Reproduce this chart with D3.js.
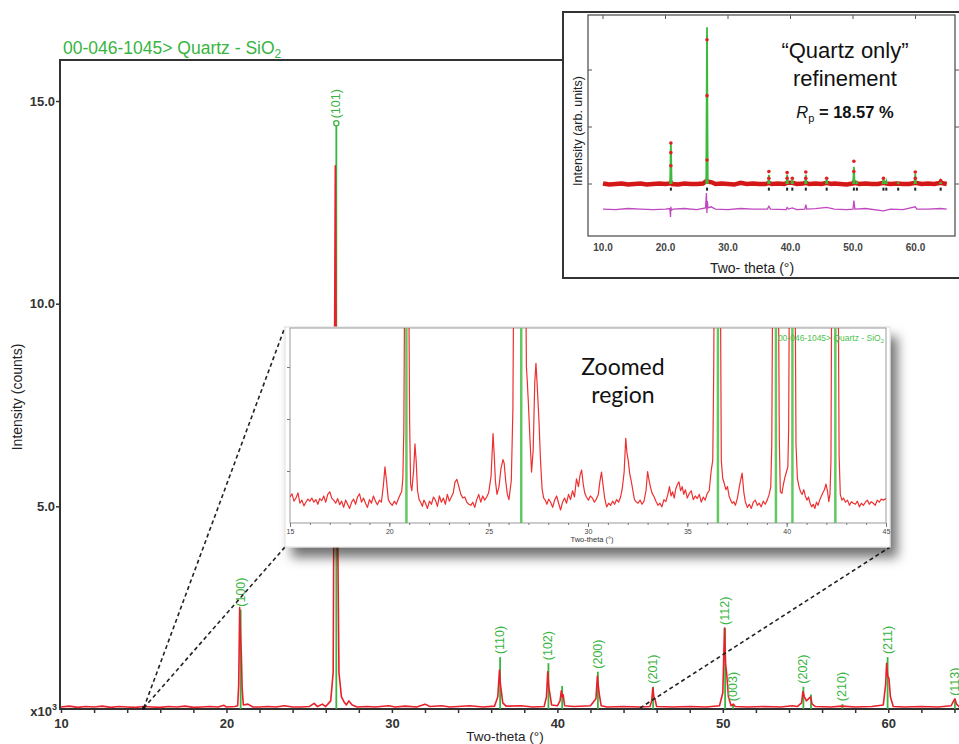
<!DOCTYPE html>
<html>
<head>
<meta charset="utf-8">
<script src="https://cdn.jsdelivr.net/npm/d3@7"></script>
<style>
  body { margin: 0; background: #fff; }
  svg { display: block; font-family: "Liberation Sans", Arial, sans-serif; }
</style>
</head>
<body>
<svg id="chart" width="959" height="744"></svg>
<script>
// ---- main pattern, intensity in units of 10^3 counts ----
const scan = [
  [10.0,0.05],[10.5,0.07],[11.0,0.04],[11.5,0.06],[12.0,0.05],[12.5,0.07],[13.0,0.04],[13.5,0.06],
  [14.0,0.05],[14.5,0.04],[15.0,0.06],[15.5,0.05],[16.0,0.04],[16.5,0.06],[17.0,0.05],[17.5,0.07],
  [18.0,0.04],[18.5,0.05],[19.0,0.06],[19.5,0.05],[19.85,0.09],[20.0,0.05],[20.5,0.06],[20.68,0.08],
  [20.74,0.6],[20.80,2.5],[20.85,1.8],[20.90,1.35],[20.95,0.5],[21.02,0.1],[21.3,0.12],[21.6,0.05],
  [22.0,0.05],[22.5,0.06],[23.0,0.05],[23.5,0.08],[24.0,0.05],[24.5,0.05],[25.0,0.06],[25.3,0.14],
  [25.5,0.06],[25.8,0.12],[26.0,0.06],[26.3,0.2],[26.45,0.9],[26.58,13.4],[26.66,6.0],[26.72,4.5],
  [26.8,0.9],[26.95,0.3],[27.1,0.18],[27.25,0.1],[27.4,0.2],[27.6,0.1],[27.9,0.05],[28.5,0.06],
  [29.0,0.05],[29.8,0.08],[30.2,0.05],[30.8,0.07],[31.5,0.05],[32.0,0.12],[32.3,0.06],[33.0,0.08],
  [33.5,0.05],[34.0,0.06],[34.7,0.08],[35.5,0.05],[36.2,0.07],[36.40,0.3],[36.50,0.96],[36.56,0.6],
  [36.61,0.45],[36.7,0.15],[36.9,0.07],[37.8,0.08],[38.5,0.05],[39.2,0.06],[39.34,0.3],[39.42,0.92],
  [39.48,0.55],[39.54,0.4],[39.65,0.1],[40.0,0.08],[40.16,0.2],[40.24,0.45],[40.30,0.3],[40.35,0.35],
  [40.44,0.08],[41.0,0.06],[42.0,0.08],[42.33,0.25],[42.42,0.81],[42.48,0.55],[42.54,0.35],[42.65,0.08],
  [43.0,0.05],[44.0,0.06],[45.0,0.05],[45.6,0.06],[45.70,0.2],[45.77,0.52],[45.83,0.3],[45.9,0.25],
  [46.0,0.06],[47.0,0.05],[48.0,0.06],[49.0,0.05],[49.8,0.08],[50.0,0.4],[50.10,2.0],[50.17,1.1],
  [50.24,0.84],[50.34,0.3],[50.5,0.08],[50.64,0.12],[50.75,0.06],[51.5,0.05],[52.5,0.06],[53.5,0.05],
  [54.2,0.08],[54.5,0.06],[54.76,0.15],[54.84,0.43],[54.93,0.3],[55.05,0.2],[55.3,0.3],[55.4,0.12],
  [55.6,0.06],[56.5,0.05],[57.2,0.07],[58.0,0.05],[59.0,0.06],[59.7,0.1],[59.84,0.6],[59.90,1.13],
  [59.97,0.8],[60.04,0.76],[60.13,0.3],[60.3,0.06],[61.0,0.05],[62.0,0.06],[63.0,0.05],[63.8,0.08],
  [63.95,0.2],[64.03,0.25],[64.13,0.12],[64.3,0.05],[65.0,0.06]
];

// quartz reference lines (00-046-1045)
const peakTheta  = [20.86, 26.64, 36.54, 39.46, 40.29, 42.45, 45.79, 50.14, 50.62, 54.87, 55.33, 57.23, 59.96, 64.03];
const peakHeight = [2.45, 14.45, 1.28, 1.13, 0.57, 0.92, 0.55, 2.0, 0.12, 0.55, 0.36, 0.12, 1.28, 0.25];
const peakHkl    = ["(100)", "(101)", "(110)", "(102)", "", "(200)", "(201)", "(112)", "(003)", "(202)", "", "(210)", "(211)", "(113)"];
const markedHkl  = ["(101)"];

const xTicks = [10, 20, 30, 40, 50, 60];
const xMinorTicks = d3.range(10, 66, 2);
const yTicks = [5, 10, 15];
const zoomFrom = 15, zoomTo = 45;

// ---- zoomed region (arbitrary units) ----
const zoomScan = [
  [15.0,0.50],[15.1,0.56],[15.2,0.42],[15.3,0.48],[15.4,0.58],[15.5,0.38],[15.6,0.44],[15.7,0.33],[15.8,0.40],[15.9,0.46],
  [16.0,0.42],[16.1,0.48],[16.2,0.40],[16.3,0.45],[16.4,0.36],[16.5,0.47],[16.6,0.43],[16.7,0.52],[16.8,0.40],[16.9,0.55],
  [17.0,0.60],[17.1,0.48],[17.2,0.44],[17.3,0.38],[17.4,0.47],[17.5,0.35],[17.6,0.42],[17.7,0.30],[17.8,0.44],[17.9,0.36],
  [18.0,0.28],[18.1,0.40],[18.2,0.46],[18.3,0.36],[18.4,0.50],[18.5,0.56],[18.6,0.40],[18.7,0.48],[18.8,0.38],[18.9,0.30],
  [19.0,0.45],[19.1,0.38],[19.2,0.52],[19.3,0.42],[19.4,0.35],[19.5,0.44],[19.6,0.40],[19.7,0.72],[19.78,1.08],[19.86,0.80],
  [19.95,0.45],[20.05,0.38],[20.15,0.34],[20.25,0.42],[20.35,0.36],[20.45,0.46],[20.55,0.55],[20.62,0.60],[20.68,0.85],[20.73,1.8],
  [20.77,4.5],[20.84,9],[20.92,9],[20.98,4.5],[21.02,2.0],[21.07,0.75],[21.13,0.62],[21.22,1.0],[21.29,1.52],[21.35,1.2],
  [21.42,0.62],[21.50,0.45],[21.58,0.40],[21.66,0.32],[21.74,0.44],[21.82,0.38],[21.92,0.28],[22.02,0.42],[22.12,0.36],[22.22,0.50],
  [22.32,0.44],[22.42,0.32],[22.52,0.52],[22.62,0.40],[22.72,0.48],[22.82,0.36],[22.92,0.55],[23.02,0.42],[23.12,0.50],[23.22,0.58],
  [23.30,0.78],[23.40,0.84],[23.50,0.70],[23.60,0.55],[23.70,0.48],[23.80,0.50],[23.90,0.40],[24.00,0.36],[24.10,0.34],[24.20,0.40],
  [24.30,0.30],[24.40,0.45],[24.50,0.55],[24.60,0.40],[24.70,0.52],[24.80,0.44],[24.90,0.50],[25.00,0.58],[25.12,0.90],[25.22,1.72],
  [25.28,1.30],[25.34,0.80],[25.42,0.55],[25.52,0.70],[25.62,1.05],[25.72,1.22],[25.78,1.15],[25.86,0.80],[25.94,0.55],[26.02,0.45],
  [26.14,0.82],[26.22,2.2],[26.28,6],[26.42,12],[26.74,12],[26.84,6],[26.90,3.0],[26.94,2.75],[27.00,2.3],[27.08,1.6],
  [27.16,0.98],[27.24,1.4],[27.32,2.7],[27.38,3.07],[27.45,2.6],[27.53,1.98],[27.61,1.2],[27.69,0.65],[27.77,0.48],[27.85,0.44],
  [27.93,0.36],[28.02,0.46],[28.12,0.40],[28.22,0.30],[28.32,0.44],[28.42,0.52],[28.52,0.38],[28.62,0.25],[28.72,0.40],[28.82,0.48],
  [28.92,0.38],[29.02,0.55],[29.12,0.45],[29.22,0.62],[29.32,0.50],[29.42,0.85],[29.52,0.70],[29.60,0.92],[29.68,1.02],[29.76,0.75],
  [29.84,0.57],[29.92,0.50],[30.02,0.44],[30.12,0.52],[30.22,0.48],[30.32,0.40],[30.42,0.46],[30.52,0.55],[30.60,0.80],[30.68,0.98],
  [30.76,0.72],[30.84,0.48],[30.94,0.31],[31.04,0.38],[31.14,0.34],[31.24,0.42],[31.34,0.36],[31.44,0.45],[31.54,0.40],[31.64,0.50],
  [31.72,0.65],[31.82,0.98],[31.90,1.63],[31.96,1.35],[32.02,1.22],[32.10,0.95],[32.18,0.80],[32.26,0.62],[32.34,0.45],[32.42,0.41],
  [32.52,0.38],[32.62,0.44],[32.72,0.36],[32.82,0.42],[32.92,0.62],[33.00,0.99],[33.06,0.85],[33.14,0.70],[33.22,0.58],[33.32,0.51],
  [33.42,0.42],[33.52,0.34],[33.62,0.38],[33.72,0.31],[33.82,0.45],[33.92,0.41],[34.02,0.55],[34.10,0.70],[34.18,0.52],[34.26,0.60],
  [34.34,0.48],[34.42,0.66],[34.50,0.74],[34.58,0.79],[34.66,0.62],[34.74,0.70],[34.82,0.55],[34.90,0.64],[35.00,0.48],[35.10,0.57],
  [35.20,0.62],[35.30,0.45],[35.40,0.52],[35.50,0.47],[35.60,0.55],[35.70,0.40],[35.80,0.50],[35.90,0.44],[36.00,0.57],[36.10,0.62],
  [36.20,1.0],[36.28,1.21],[36.33,3.0],[36.38,7],[36.48,12],[36.60,12],[36.66,5],[36.71,1.2],[36.78,0.86],[36.86,0.76],
  [36.94,0.64],[37.02,0.70],[37.10,0.52],[37.18,0.44],[37.26,0.38],[37.34,0.41],[37.42,0.34],[37.52,0.48],[37.62,0.70],[37.70,0.86],
  [37.76,0.96],[37.84,0.60],[37.92,0.41],[38.02,0.30],[38.12,0.36],[38.22,0.28],[38.32,0.40],[38.42,0.44],[38.52,0.34],[38.62,0.38],
  [38.72,0.31],[38.82,0.42],[38.92,0.36],[39.02,0.44],[39.12,0.55],[39.20,0.70],[39.25,1.5],[39.30,5],[39.40,12],[39.52,12],
  [39.58,5],[39.63,1.6],[39.68,0.60],[39.76,0.57],[39.84,0.75],[39.92,0.89],[40.00,1.0],[40.06,1.08],[40.10,1.8],[40.14,5],
  [40.24,12],[40.34,12],[40.42,5],[40.47,1.5],[40.54,0.86],[40.62,0.70],[40.70,0.60],[40.78,0.55],[40.86,0.64],[40.94,0.52],
  [41.02,0.44],[41.10,0.50],[41.18,0.38],[41.26,0.31],[41.34,0.36],[41.42,0.28],[41.50,0.40],[41.58,0.34],[41.66,0.44],[41.74,0.51],
  [41.82,0.58],[41.90,0.64],[41.98,0.75],[42.06,0.60],[42.12,0.41],[42.18,0.55],[42.23,1.2],[42.27,5],[42.38,12],[42.50,12],
  [42.59,5],[42.64,1.3],[42.70,0.55],[42.78,0.44],[42.86,0.48],[42.96,0.40],[43.06,0.44],[43.16,0.34],[43.26,0.41],[43.36,0.38],
  [43.46,0.36],[43.56,0.42],[43.66,0.31],[43.76,0.38],[43.86,0.34],[43.96,0.40],[44.06,0.44],[44.16,0.36],[44.26,0.41],[44.36,0.38],
  [44.46,0.34],[44.56,0.44],[44.66,0.40],[44.76,0.46],[44.86,0.44],[45.0,0.47]
];
const zoomTicks = [15, 20, 25, 30, 35, 40, 45];

// ---- "quartz only" refinement inset (arb. units) ----
const refTicks = [10, 20, 30, 40, 50, 60];
const refCalcHeight = [0.72, 2.75, 0.16, 0.16, 0.08, 0.16, 0.08, 0.3, 0.03, 0.1, 0.05, 0.02, 0.18, 0.05];
const refObsBase = [
  [10,0.01],[11,-0.01],[12,0.0],[13,0.01],[14,-0.01],[15,0.0],[16,0.01],[17,-0.01],[18,0.0],[19,0.01],
  [20,0.0],[20.7,0.01],[20.86,0.03],[21.1,0.0],[22,-0.01],[23,0.01],[24,0.0],[25,0.0],[26,0.01],
  [26.5,0.05],[26.9,0.04],[27.4,0.03],[28,0.0],[29,0.01],[30,0.0],[31,-0.01],[32,0.02],[33,0.0],
  [34,0.01],[35,0.0],[36,0.0],[36.54,0.02],[37,0.0],[38,0.01],[39,0.0],[39.46,0.02],[40.3,0.02],
  [41,0.0],[42,0.01],[42.45,0.02],[43,0.0],[44,0.01],[45,0.0],[45.8,0.02],[46.5,0.0],[47,0.01],
  [48,0.0],[49,-0.01],[50,0.01],[50.14,0.03],[50.6,0.01],[51,0.0],[52,0.01],[53,0.0],[54,0.0],
  [54.9,0.02],[55.3,0.01],[56,0.0],[57,0.01],[58,0.0],[59,0.0],[59.96,0.02],[61,0.0],[62,0.01],
  [63,0.0],[64,0.02],[65,0.0]
];
const refObsPeaks = [
  [20.86,0.72],[20.86,0.55],[20.86,0.32],[26.64,2.53],[26.64,1.55],[26.64,0.42],[36.54,0.22],[36.54,0.1],
  [39.46,0.2],[39.46,0.1],[40.29,0.1],[42.45,0.21],[42.45,0.1],[45.79,0.1],[50.14,0.4],[50.14,0.22],
  [54.87,0.1],[59.96,0.21],[59.96,0.1],[64.03,0.06]
];
const refDiff = [
  [10,-0.44],[12,-0.45],[14,-0.43],[16,-0.44],[18,-0.45],[20,-0.44],[20.7,-0.43],[20.8,-0.58],[20.86,-0.40],
  [20.95,-0.46],[21.2,-0.44],[23,-0.43],[25,-0.45],[26.4,-0.42],[26.55,-0.16],[26.62,-0.51],[26.7,-0.30],
  [26.8,-0.42],[27.3,-0.40],[28,-0.44],[30,-0.45],[32,-0.43],[34,-0.44],[36.3,-0.44],[36.54,-0.39],
  [36.8,-0.44],[39.3,-0.45],[39.46,-0.41],[39.7,-0.44],[40.29,-0.42],[41,-0.45],[42.3,-0.44],[42.45,-0.36],
  [42.6,-0.44],[44,-0.43],[45.79,-0.41],[47,-0.44],[49,-0.45],[50.0,-0.44],[50.14,-0.29],[50.3,-0.44],
  [52,-0.43],[54.87,-0.47],[56,-0.44],[58,-0.45],[59.96,-0.40],[60.2,-0.44],[62,-0.44],[64.03,-0.43],[65,-0.44]
];

const red = "#e8202a", green = "#38b441", axisCol = "#333";
const svg = d3.select("#chart");

const defs = svg.append("defs");
const shadow = defs.append("filter").attr("id", "shadow")
  .attr("x", "-5%").attr("y", "-10%").attr("width", "115%").attr("height", "130%");
shadow.append("feDropShadow").attr("dx", 7).attr("dy", 10).attr("stdDeviation", 6)
  .attr("flood-color", "#000").attr("flood-opacity", 0.55);
defs.append("clipPath").attr("id", "zclip").append("rect")
  .attr("x", 290).attr("y", 328).attr("width", 596).attr("height", 195);

// ================= main chart =================
const x = d3.scaleLinear().domain([10, 65]).range([61, 971]);
const y = d3.scaleLinear().domain([0, 16]).range([709, 60.5]);

svg.append("rect").attr("x", 60).attr("y", 60).attr("width", 920).attr("height", 649)
  .attr("fill", "none").attr("stroke", axisCol).attr("stroke-width", 2);

const xAxis = svg.append("g").attr("transform", "translate(0,709)")
  .call(d3.axisBottom(x).tickValues(xMinorTicks).tickSize(4)
    .tickFormat(d => xTicks.includes(d) ? d : ""));
xAxis.select(".domain").remove();
xAxis.selectAll("line").attr("stroke", axisCol).attr("stroke-width", 1.5);
xAxis.selectAll("text").attr("font-size", 13).attr("font-weight", "bold").attr("fill", "#333").attr("dy", "0.9em");

const yAxis = svg.append("g").attr("transform", "translate(60,0)")
  .call(d3.axisLeft(y).tickValues(yTicks).tickSize(4).tickFormat(d3.format(".1f")));
yAxis.select(".domain").remove();
yAxis.selectAll("line").attr("stroke", axisCol).attr("stroke-width", 1.5);
yAxis.selectAll("text").attr("font-size", 13).attr("font-weight", "bold").attr("fill", "#333").attr("x", -5);

const exp = svg.append("text").attr("x", 57).attr("y", 716).attr("text-anchor", "end")
  .attr("font-size", 13).attr("font-weight", "bold").attr("fill", "#333");
exp.append("tspan").text("x10");
exp.append("tspan").attr("font-size", 9).attr("dy", -6).text("3");

svg.append("text").attr("transform", "translate(22,397) rotate(-90)").attr("text-anchor", "middle")
  .attr("font-size", 14).attr("fill", "#222").text("Intensity (counts)");
svg.append("text").attr("x", 505).attr("y", 741).attr("text-anchor", "middle")
  .attr("font-size", 13.5).attr("fill", "#222").text("Two-theta (°)");

const title = svg.append("text").attr("x", 63).attr("y", 54).attr("font-size", 17.5).attr("fill", green);
title.append("tspan").text("00-046-1045> Quartz - SiO");
title.append("tspan").attr("font-size", 12).attr("dy", 4).text("2");

// reference sticks
peakTheta.forEach((t, i) => {
  svg.append("line").attr("x1", x(t)).attr("x2", x(t)).attr("y1", y(0)).attr("y2", y(peakHeight[i]))
    .attr("stroke", green).attr("stroke-width", 1.8);
});

// observed pattern
svg.append("path").datum(scan)
  .attr("d", d3.line().x(d => x(d[0])).y(d => y(d[1])))
  .attr("fill", "none").attr("stroke", red).attr("stroke-width", 1.6).attr("stroke-linejoin", "round");

// hkl labels
peakTheta.forEach((t, i) => {
  if (!peakHkl[i]) return;
  const marked = markedHkl.includes(peakHkl[i]);
  if (marked) {
    svg.append("circle").attr("cx", x(t)).attr("cy", y(peakHeight[i])).attr("r", 2.6)
      .attr("fill", "#fff").attr("stroke", green).attr("stroke-width", 1.3);
  }
  svg.append("text")
    .attr("transform", `translate(${x(t)},${y(peakHeight[i]) - (marked ? 5 : 3)}) rotate(-90)`)
    .attr("dominant-baseline", "central").attr("font-size", 12.5).attr("fill", green)
    .text(peakHkl[i]);
});

// zoom guide lines
const zc = { x0: 285, y0: 327, x1: 890, y1: 547 };
const guide = [
  [[x(zoomFrom), y(0)], [zc.x0, zc.y0]],
  [[x(zoomFrom), y(0)], [zc.x0, zc.y1]],
  [[x(zoomTo), y(0)], [zc.x1, zc.y1]]
];
guide.forEach(g => {
  svg.append("line").attr("x1", g[0][0]).attr("y1", g[0][1] - 1).attr("x2", g[1][0]).attr("y2", g[1][1])
    .attr("stroke", "#222").attr("stroke-width", 1.6).attr("stroke-dasharray", "4,3");
});
svg.append("circle").attr("cx", x(zoomFrom)).attr("cy", y(0) - 1).attr("r", 1.8).attr("fill", "#111");

// ================= zoomed region card =================
const zg = svg.append("g");
zg.append("rect").attr("x", zc.x0).attr("y", zc.y0).attr("width", zc.x1 - zc.x0).attr("height", zc.y1 - zc.y0)
  .attr("fill", "#fff").attr("stroke", "#ddd").attr("filter", "url(#shadow)");

const xi = d3.scaleLinear().domain([zoomFrom, zoomTo]).range([290, 886]);
const yi = d3.scaleLinear().domain([0, 3.75]).range([523, 328]);

zg.append("rect").attr("x", 290).attr("y", 328).attr("width", 596).attr("height", 195)
  .attr("fill", "none").attr("stroke", "#999").attr("stroke-width", 1);

const zx = zg.append("g").attr("transform", "translate(0,523)")
  .call(d3.axisBottom(xi).tickValues(d3.range(15, 46, 1)).tickSize(2).tickFormat(""));
zx.select(".domain").remove();
zx.selectAll("line").attr("stroke", "#777");
const zxm = zg.append("g").attr("transform", "translate(0,523)")
  .call(d3.axisBottom(xi).tickValues(zoomTicks).tickSize(4).tickFormat(d => d));
zxm.select(".domain").remove();
zxm.selectAll("line").attr("stroke", "#777");
zxm.selectAll("text").attr("font-size", 7).attr("fill", "#444").attr("dy", "0.5em");
const zy = zg.append("g").attr("transform", "translate(290,0)")
  .call(d3.axisLeft(yi).tickValues([1, 2, 3]).tickSize(3).tickFormat(""));
zy.select(".domain").remove();
zy.selectAll("line").attr("stroke", "#777");

zg.append("text").attr("x", 592).attr("y", 542).attr("text-anchor", "middle")
  .attr("font-size", 7.5).attr("fill", "#333").text("Two-theta (°)");

const zplot = zg.append("g").attr("clip-path", "url(#zclip)");
peakTheta.filter(t => t >= zoomFrom && t <= zoomTo).forEach(t => {
  zplot.append("line").attr("x1", xi(t)).attr("x2", xi(t)).attr("y1", 328).attr("y2", 523)
    .attr("stroke", "#62c862").attr("stroke-width", 2.5);
});
zplot.append("path").datum(zoomScan)
  .attr("d", d3.line().x(d => xi(d[0])).y(d => yi(d[1])))
  .attr("fill", "none").attr("stroke", "#ee3030").attr("stroke-width", 1.2).attr("stroke-linejoin", "round");

const zt = zg.append("text").attr("x", 884).attr("y", 341).attr("text-anchor", "end")
  .attr("font-size", 8.5).attr("fill", "#4cbf4c");
zt.append("tspan").text("00-046-1045> Quartz - SiO");
zt.append("tspan").attr("font-size", 6).attr("dy", 2).text("2");

zg.append("text").attr("x", 623).attr("y", 375).attr("text-anchor", "middle")
  .attr("font-family", "Lato, 'Open Sans', sans-serif").attr("font-size", 23).attr("fill", "#111").text("Zoomed");
zg.append("text").attr("x", 623).attr("y", 403).attr("text-anchor", "middle")
  .attr("font-family", "Lato, 'Open Sans', sans-serif").attr("font-size", 23).attr("fill", "#111").text("region");

// ================= refinement inset =================
const rg = svg.append("g");
rg.append("rect").attr("x", 563).attr("y", 12).attr("width", 420).attr("height", 266)
  .attr("fill", "#fff").attr("stroke", "#333").attr("stroke-width", 2);

const xr = d3.scaleLinear().domain([10, 65]).range([603, 946.75]);
const yr = d3.scaleLinear().domain([-0.912, 2.965]).range([236, 15]);

rg.append("rect").attr("x", 588).attr("y", 15).attr("width", 367).attr("height", 221)
  .attr("fill", "none").attr("stroke", "#555").attr("stroke-width", 1.3);

[0, 1, 2].forEach(v => {
  rg.append("line").attr("x1", 588).attr("x2", 592).attr("y1", yr(v)).attr("y2", yr(v)).attr("stroke", "#555");
  rg.append("line").attr("x1", 955).attr("x2", 959).attr("y1", yr(v)).attr("y2", yr(v)).attr("stroke", "#555");
});
refTicks.forEach(t => {
  rg.append("line").attr("x1", xr(t)).attr("x2", xr(t)).attr("y1", 15).attr("y2", 19).attr("stroke", "#555");
  rg.append("text").attr("x", xr(t)).attr("y", 251).attr("text-anchor", "middle")
    .attr("font-size", 10).attr("font-weight", "bold").attr("fill", "#444").text(t.toFixed(1));
});

rg.append("text").attr("transform", "translate(582,131) rotate(-90)").attr("text-anchor", "middle")
  .attr("font-size", 12.5).attr("fill", "#222").text("Intensity (arb. units)");
rg.append("text").attr("x", 752).attr("y", 273).attr("text-anchor", "middle")
  .attr("font-size", 14).attr("fill", "#222").text("Two- theta (°)");

// observed baseline band
rg.append("path").datum(refObsBase)
  .attr("d", d3.line().x(d => xr(d[0])).y(d => yr(d[1])))
  .attr("fill", "none").attr("stroke", "#d41818").attr("stroke-width", 4.5);
// calculated peaks
peakTheta.forEach((t, i) => {
  rg.append("path").datum([[t - 0.12, 0], [t, refCalcHeight[i]], [t + 0.12, 0]])
    .attr("d", d3.line().x(d => xr(d[0])).y(d => yr(d[1])))
    .attr("fill", "none").attr("stroke", "#3dba3d").attr("stroke-width", 1.8);
});
// observed peak points
rg.selectAll(".obs").data(refObsPeaks).enter().append("circle")
  .attr("cx", d => xr(d[0])).attr("cy", d => yr(d[1])).attr("r", 1.8).attr("fill", "#e02020");
// reflection markers
peakTheta.forEach(t => {
  rg.append("rect").attr("x", xr(t) - 1).attr("y", yr(-0.09) - 1.5).attr("width", 2).attr("height", 3).attr("fill", "#222");
});
// difference curve
rg.append("path").datum(refDiff)
  .attr("d", d3.line().x(d => xr(d[0])).y(d => yr(d[1])))
  .attr("fill", "none").attr("stroke", "#c048c0").attr("stroke-width", 1.3);

rg.append("text").attr("x", 845).attr("y", 58).attr("text-anchor", "middle")
  .attr("font-size", 22).attr("fill", "#111").text("\u201CQuartz only\u201D");
rg.append("text").attr("x", 845).attr("y", 86).attr("text-anchor", "middle")
  .attr("font-size", 22).attr("fill", "#111").text("refinement");
const rp = rg.append("text").attr("x", 845).attr("y", 118).attr("text-anchor", "middle")
  .attr("font-size", 16.5).attr("fill", "#111");
rp.append("tspan").attr("font-style", "italic").text("R");
rp.append("tspan").attr("font-size", 11).attr("dy", 4).text("p");
rp.append("tspan").attr("dy", -4).attr("font-weight", "bold").text(" = 18.57 %");
</script>
</body>
</html>
